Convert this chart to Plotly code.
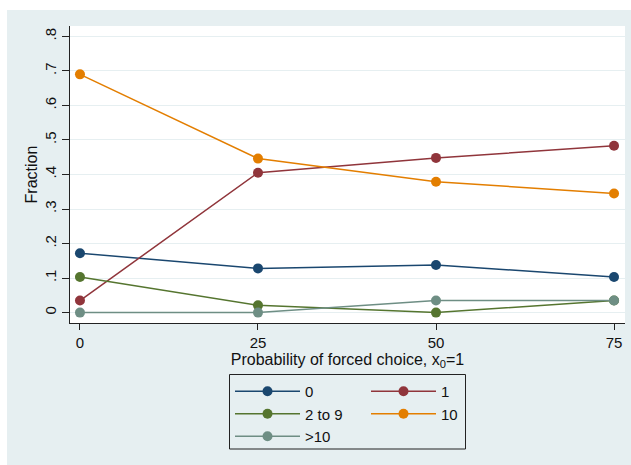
import plotly.graph_objects as go

# ---- data ----
x_prob = [0, 25, 50, 75]
series_names = ["0", "1", "2 to 9", "10", ">10"]
frac_0 = [0.172, 0.128, 0.138, 0.103]
frac_1 = [0.035, 0.405, 0.448, 0.483]
frac_2to9 = [0.103, 0.021, 0.0, 0.035]
frac_10 = [0.690, 0.446, 0.379, 0.345]
frac_gt10 = [0.0, 0.0, 0.035, 0.035]
y_tickvals = [0, 0.1, 0.2, 0.3, 0.4, 0.5, 0.6, 0.7, 0.8]
y_ticktext = ["0", ".1", ".2", ".3", ".4", ".5", ".6", ".7", ".8"]
x_tickvals = [0, 25, 50, 75]
x_ticktext = ["0", "25", "50", "75"]

colors = ["#1a476f", "#90353b", "#55752f", "#e37e00", "#6e8e84"]
series = [frac_0, frac_1, frac_2to9, frac_10, frac_gt10]
legend_of = ["legend", "legend2", "legend", "legend2", "legend"]

FONT = "Liberation Sans, Arial, Helvetica, sans-serif"
BG = "#e6eff1"

fig = go.Figure()
for name, ys, col, lg in zip(series_names, series, colors, legend_of):
    fig.add_trace(go.Scatter(
        x=x_prob, y=ys, name=name, mode="lines+markers",
        line=dict(color=col, width=1.5),
        marker=dict(color=col, size=10),
        legend=lg, legendgroup=name,
    ))

W, H = 631, 465
L, R, T, B = 70, 6, 26, 142
pw, ph = W - L - R, H - T - B

def px_x(p):
    return (p - L) / pw

def px_y(p):
    return (H - B - p) / ph

shapes = [
    # white strips outside the grey outer region (top and left)
    dict(type="rect", xref="paper", yref="paper", layer="above",
         x0=px_x(-5), x1=px_x(7), y0=px_y(470), y1=px_y(-5),
         fillcolor="white", line=dict(width=0)),
    dict(type="rect", xref="paper", yref="paper", layer="above",
         x0=px_x(-5), x1=px_x(640), y0=px_y(10), y1=px_y(-5),
         fillcolor="white", line=dict(width=0)),
    # legend frame
    dict(type="rect", xref="paper", yref="paper", layer="above",
         x0=px_x(229.5), x1=px_x(465.5), y0=px_y(449), y1=px_y(374.5),
         fillcolor="rgba(0,0,0,0)", line=dict(color="#222222", width=1)),
]

legend_common = dict(
    bgcolor="rgba(0,0,0,0)", borderwidth=0,
    font=dict(family=FONT, size=15, color="#111111"),
    itemwidth=65, tracegroupgap=0, orientation="v",
    xanchor="left", yanchor="top", traceorder="normal",
)

fig.update_layout(
    width=W, height=H,
    margin=dict(l=L, r=R, t=T, b=B, autoexpand=False),
    paper_bgcolor=BG, plot_bgcolor="white",
    font=dict(family=FONT, size=15, color="#111111"),
    showlegend=True,
    shapes=shapes,
    legend=dict(legend_common, x=px_x(230), y=px_y(375)),
    legend2=dict(legend_common, x=px_x(366), y=px_y(375)),
    xaxis=dict(
        range=[-1.40, 76.54], tickvals=x_tickvals, ticktext=x_ticktext,
        showgrid=False, zeroline=False, showline=True, linecolor="#222222", linewidth=1,
        ticks="outside", ticklen=6, tickcolor="#222222",
        tickfont=dict(family=FONT, size=15),
        title=dict(text="Probability of forced choice, x<sub>0</sub>=1",
                   font=dict(family=FONT, size=16), standoff=2),
    ),
    yaxis=dict(
        range=[-0.0301, 0.830], tickvals=y_tickvals, ticktext=y_ticktext,
        tickangle=-90,
        showgrid=True, gridcolor=BG, gridwidth=1.2, zeroline=False,
        showline=True, linecolor="#222222", linewidth=1,
        ticks="outside", ticklen=7, tickcolor="#222222",
        tickfont=dict(family=FONT, size=15),
        title=dict(text="Fraction", font=dict(family=FONT, size=16), standoff=0),
    ),
)

fig.write_html(
    "out.html",
    config={"displayModeBar": False},
    post_script="document.body.style.margin='0px';document.body.style.overflow='hidden';",
)
